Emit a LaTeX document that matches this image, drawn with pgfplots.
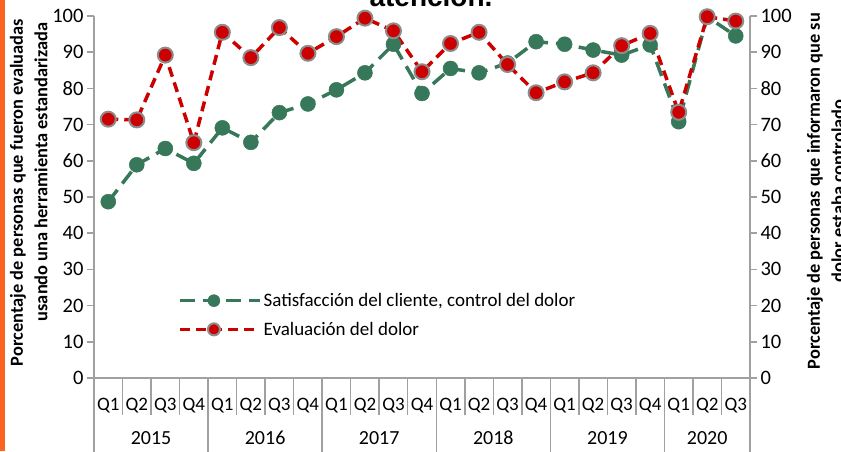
\documentclass[border=0pt]{standalone}
\usepackage{pgfplots}
\pgfplotsset{compat=1.18}
\usepackage{fontspec}
\setmainfont{Carlito}
\newfontfamily\titlefont{Liberation Sans}
\definecolor{grn}{RGB}{56,120,90}
\definecolor{rd}{RGB}{204,0,0}
\definecolor{axgray}{RGB}{160,160,160}
\definecolor{mkgray}{RGB}{140,140,140}
\definecolor{orng}{RGB}{252,98,32}

\pgfplotstableread{
idx sat eva
0 48.7 71.5
1 58.9 71.3
2 63.4 89.2
3 59.3 65.0
4 69.1 95.5
5 65.1 88.5
6 73.3 96.8
7 75.7 89.7
8 79.6 94.3
9 84.3 99.4
10 92.2 95.9
11 78.6 84.6
12 85.5 92.4
13 84.3 95.5
14 87.0 86.6
15 92.9 78.8
16 92.2 81.8
17 90.6 84.3
18 89.2 91.8
19 92.0 95.2
20 70.8 73.4
21 99.8 99.8
22 94.5 98.6
}\datatable

\begin{document}
\begin{tikzpicture}[x=1pt,y=1pt]
\useasboundingbox (0,0) rectangle (841,451);
\clip (0,0) rectangle (841,451);
\fill[orng] (0,0) rectangle (5,451);
\node[font=\titlefont\bfseries\fontsize{28}{30}\selectfont, anchor=base] at (431,444) {atención.};

\begin{axis}[
  at={(94pt,73pt)}, anchor=south west, scale only axis,
  width=656pt, height=362pt,
  xmin=-0.5, xmax=22.5, ymin=0, ymax=100,
  axis y line*=left, axis x line*=bottom,
  axis line style={axgray, line width=1.5pt, -},
  xtick={0,...,22},
  xticklabels={Q1,Q2,Q3,Q4,Q1,Q2,Q3,Q4,Q1,Q2,Q3,Q4,Q1,Q2,Q3,Q4,Q1,Q2,Q3,Q4,Q1,Q2,Q3},
  xtick style={draw=none},
  x tick label style={anchor=center, yshift=-21pt, font=\fontsize{19}{21}\selectfont},
  ytick={0,10,...,100},
  ytick style={axgray, line width=1.5pt},
  tick align=outside, major tick length=7pt,
  y tick label style={font=\fontsize{20.5}{22}\selectfont},
  /pgf/number format/assume math mode=true,
  clip=false,
  legend style={at={(0.128,0.24)}, anchor=north west, draw=none, fill=none,
    font=\fontsize{19}{21}\selectfont, row sep=10pt, inner sep=0pt},
  legend cell align=left,
  legend image code/.code={\path (0pt,0pt) -- (80pt,0pt);\draw[#1, mark size=6pt, mark repeat=2, mark phase=2] plot coordinates {(0pt,0pt) (34pt,0pt) (64pt,0pt)};},
]
\addplot[grn, line width=3.5pt, dash pattern=on 15pt off 8pt,
  mark=*, mark size=7.5pt, mark options={solid, fill=grn, draw=grn, line width=0.5pt}]
  table[x=idx, y=sat] {\datatable};
\addlegendentry{Satisfacción del cliente, control del dolor}
\addplot[rd, line width=3.5pt, dash pattern=on 10pt off 6pt,
  mark=*, mark size=7.5pt, mark options={solid, fill=rd, draw=mkgray, line width=2pt}]
  table[x=idx, y=eva] {\datatable};
\addlegendentry{Evaluación del dolor}
\end{axis}

\begin{axis}[
  at={(94pt,73pt)}, anchor=south west, scale only axis,
  width=656pt, height=362pt,
  xmin=-0.5, xmax=22.5, ymin=0, ymax=100,
  axis y line*=right, axis x line=none,
  axis line style={axgray, line width=1.5pt, -},
  ytick={0,10,...,100},
  ytick style={axgray, line width=1.5pt},
  tick align=outside, major tick length=7pt,
  y tick label style={font=\fontsize{20.5}{22}\selectfont},
  /pgf/number format/assume math mode=true,
]
\addplot[draw=none] coordinates {(0,0)};
\end{axis}

% category separators
\foreach \i in {1,2,3,5,6,7,9,10,11,13,14,15,17,18,19,21,22}
  \draw[axgray, line width=1.5pt] (94+\i*28.5217,73) -- ++(0,-37);
\foreach \i in {0,4,8,12,16,20,23}
  \draw[axgray, line width=1.5pt] (94+\i*28.5217,73) -- ++(0,-80);
% year labels
\foreach \c/\y in {2/2015,6/2016,10/2017,14/2018,18/2019,21.5/2020}
  \node[font=\fontsize{20}{22}\selectfont] at (94+\c*28.5217,13) {\y};

% axis titles
\node[rotate=90, font=\bfseries\fontsize{18.4}{20}\selectfont] at (18,258.5) {Porcentaje de personas que fueron evaluadas};
\node[rotate=90, font=\bfseries\fontsize{18.4}{20}\selectfont] at (41,279) {usando una herramienta estandarizada};
\node[rotate=90, font=\bfseries\fontsize{18.4}{20}\selectfont] at (815,260) {Porcentaje de personas que informaron que su};
\node[rotate=90, font=\bfseries\fontsize{18.4}{20}\selectfont] at (838,260) {dolor estaba controlado};
\end{tikzpicture}
\end{document}
